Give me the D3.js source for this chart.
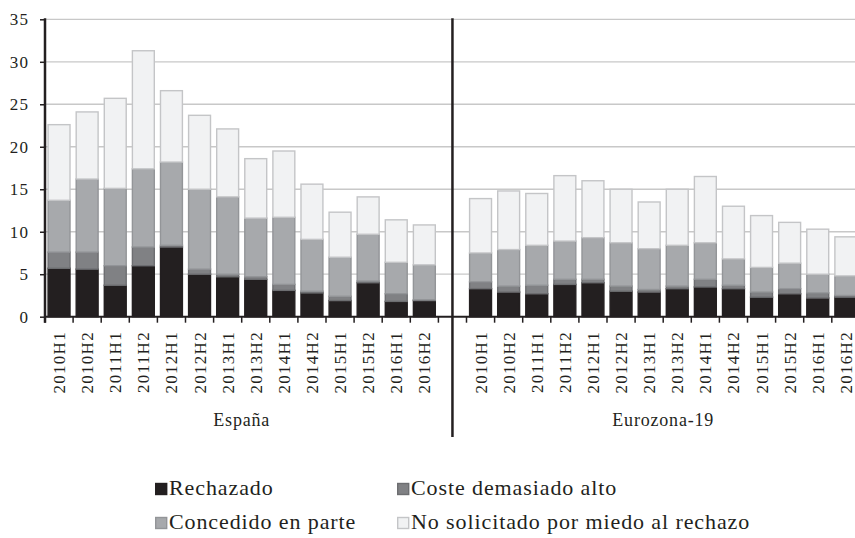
<!DOCTYPE html>
<html>
<head>
<meta charset="utf-8">
<script src="https://cdn.jsdelivr.net/npm/d3@7"></script>
<style>
  body { margin: 0; background: #fff; }
  text { font-family: "Liberation Serif", "Times New Roman", serif; fill: #231f20; }
</style>
</head>
<body>
<div id="chart"></div>
<script>
// periods and regions
const periods = ["2010H1","2010H2","2011H1","2011H2","2012H1","2012H2","2013H1",
                 "2013H2","2014H1","2014H2","2015H1","2015H2","2016H1","2016H2"];
const regions = ["España", "Eurozona-19"];
const seriesNames = ["Rechazado", "Coste demasiado alto", "Concedido en parte",
                     "No solicitado por miedo al rechazo"];
const yTicks = [0, 5, 10, 15, 20, 25, 30, 35];

// España (percent), one array per series
const esRechazado = [5.7, 5.6, 3.7, 6.0, 8.2, 5.0, 4.7, 4.4, 3.1, 2.8, 1.9, 4.0, 1.8, 1.9];
const esCoste     = [1.9, 2.0, 2.3, 2.2, 0.2, 0.6, 0.3, 0.3, 0.7, 0.2, 0.5, 0.2, 0.9, 0.1];
const esParte     = [6.1, 8.6, 9.1, 9.2, 9.8, 9.4, 9.1, 6.9, 7.9, 6.1, 4.6, 5.5, 3.7, 4.1];
const esMiedo     = [8.9, 7.9, 10.6, 13.9, 8.4, 8.7, 8.0, 7.0, 7.8, 6.5, 5.3, 4.4, 5.0, 4.7];

// Eurozona-19
const ezRechazado = [3.3, 2.9, 2.7, 3.8, 4.0, 3.0, 2.9, 3.3, 3.5, 3.3, 2.3, 2.7, 2.2, 2.3];
const ezCoste     = [0.8, 0.7, 1.0, 0.6, 0.4, 0.6, 0.3, 0.3, 0.9, 0.4, 0.6, 0.6, 0.6, 0.2];
const ezParte     = [3.4, 4.3, 4.7, 4.5, 4.9, 5.1, 4.8, 4.8, 4.3, 3.1, 2.9, 3.0, 2.2, 2.3];
const ezMiedo     = [6.4, 6.9, 6.1, 7.7, 6.7, 6.3, 5.5, 6.6, 7.8, 6.2, 6.1, 4.8, 5.3, 4.6];

const fills   = ["#231f20", "#808184", "#a7a9ac", "#f1f2f3"];
const strokes = ["#231f20", "#6d6e71", "#939598", "#c4c5c7"];

// build rows: España, an empty slot, Eurozona
const rows = [];
periods.forEach((p, i) => rows.push({key: "ES" + p, label: p,
  v: [esRechazado[i], esCoste[i], esParte[i], esMiedo[i]]}));
rows.push({key: "gap", label: "", v: [0, 0, 0, 0]});
periods.forEach((p, i) => rows.push({key: "EZ" + p, label: p,
  v: [ezRechazado[i], ezCoste[i], ezParte[i], ezMiedo[i]]}));

const W = 855, H = 538;
const left = 45, yTop = 19.3, yBottom = 316.7;

const svg = d3.select("#chart").append("svg")
    .attr("width", W)
    .attr("height", H);

const x = d3.scaleBand()
    .domain(rows.map(d => d.key))
    .range([left, left + 29 * 28.1])
    .paddingInner(0.17)
    .paddingOuter(0.085);

const y = d3.scaleLinear()
    .domain([0, 35])
    .range([yBottom, yTop]);

const step = x.step();

// gridlines
svg.append("g")
  .selectAll("line")
  .data(yTicks.filter(t => t > 0))
  .join("line")
    .attr("x1", left)
    .attr("x2", W)
    .attr("y1", d => y(d))
    .attr("y2", d => y(d))
    .attr("stroke", "#c8c8c8")
    .attr("stroke-width", 1.3);

// stacked bars
const stack = d3.stack()
    .keys([0, 1, 2, 3])
    .value((d, k) => d.v[k]);
const stacked = stack(rows.filter(d => d.key !== "gap"));

svg.append("g")
  .selectAll("g")
  .data(stacked)
  .join("g")
    .attr("fill", (s, i) => fills[i])
    .attr("stroke", (s, i) => strokes[i])
    .attr("stroke-width", 1.4)
  .selectAll("rect")
  .data(s => s)
  .join("rect")
    .attr("x", d => x(d.data.key) + 0.7)
    .attr("width", x.bandwidth() - 1.4)
    .attr("y", d => y(d[1]))
    .attr("height", d => Math.max(0, y(d[0]) - y(d[1])));

// x axis line and ticks at category boundaries
svg.append("line")
    .attr("x1", left).attr("x2", W)
    .attr("y1", yBottom).attr("y2", yBottom)
    .attr("stroke", "#231f20").attr("stroke-width", 2);

const bounds = [];
rows.forEach(d => {
  if (d.key === "gap") return;
  const x0 = x(d.key) - step * 0.085;
  bounds.push(x0, x0 + step);
});
svg.append("g")
  .selectAll("line")
  .data(Array.from(new Set(bounds.map(b => b.toFixed(1)))).map(Number))
  .join("line")
    .attr("x1", d => d).attr("x2", d => d)
    .attr("y1", yBottom).attr("y2", yBottom + 6)
    .attr("stroke", "#231f20").attr("stroke-width", 1.5);

// x tick labels (rotated)
svg.append("g")
  .selectAll("text")
  .data(rows.filter(d => d.key !== "gap"))
  .join("text")
    .attr("transform", d => `translate(${x(d.key) + x.bandwidth() / 2}, 331) rotate(-90)`)
    .attr("text-anchor", "end")
    .attr("dy", "0.35em")
    .style("font-size", "17px")
    .style("letter-spacing", "1.3px")
    .text(d => d.label);

// y axis
const yAxis = svg.append("g")
    .attr("transform", `translate(${left}, 0)`)
    .call(d3.axisLeft(y).tickValues(yTicks).tickSize(5).tickPadding(11));
yAxis.select(".domain").remove();
yAxis.selectAll(".tick line").attr("stroke", "#231f20").attr("stroke-width", 1.5);
yAxis.selectAll(".tick text")
    .attr("fill", "#231f20")
    .style("font-family", "'Liberation Serif', serif")
    .style("font-size", "17px")
    .style("letter-spacing", "1.1px");
svg.append("line")
    .attr("x1", left).attr("x2", left)
    .attr("y1", yTop - 1).attr("y2", yBottom + 6)
    .attr("stroke", "#231f20").attr("stroke-width", 2.5);

// divider between regions
const gapMid = x("gap") + x.bandwidth() / 2;
svg.append("line")
    .attr("x1", gapMid).attr("x2", gapMid)
    .attr("y1", yTop - 1).attr("y2", 437)
    .attr("stroke", "#231f20").attr("stroke-width", 2.5);

// region labels
const esMid = (x("ES2010H1") + x("ES2016H2") + x.bandwidth()) / 2;
const ezMid = (x("EZ2010H1") + x("EZ2016H2") + x.bandwidth()) / 2;
svg.append("g")
  .selectAll("text")
  .data(regions)
  .join("text")
    .attr("x", (d, i) => i === 0 ? esMid : ezMid)
    .attr("y", 426)
    .attr("text-anchor", "middle")
    .style("font-size", "18px")
    .style("letter-spacing", "0.8px")
    .text(d => d);

// legend
const legendPos = [[155, 495], [397, 495], [155, 529], [397, 529]];
const legend = svg.append("g")
  .selectAll("g")
  .data(seriesNames)
  .join("g")
    .attr("transform", (d, i) => `translate(${legendPos[i][0]}, ${legendPos[i][1]})`);
legend.append("rect")
    .attr("x", 0.7).attr("y", -11.5)
    .attr("width", 11).attr("height", 11)
    .attr("fill", (d, i) => fills[i])
    .attr("stroke", (d, i) => strokes[i])
    .attr("stroke-width", 1.4);
legend.append("text")
    .attr("x", 14)
    .attr("y", 0)
    .style("font-size", "22px")
    .style("letter-spacing", "0.9px")
    .text(d => d);
</script>
</body>
</html>
